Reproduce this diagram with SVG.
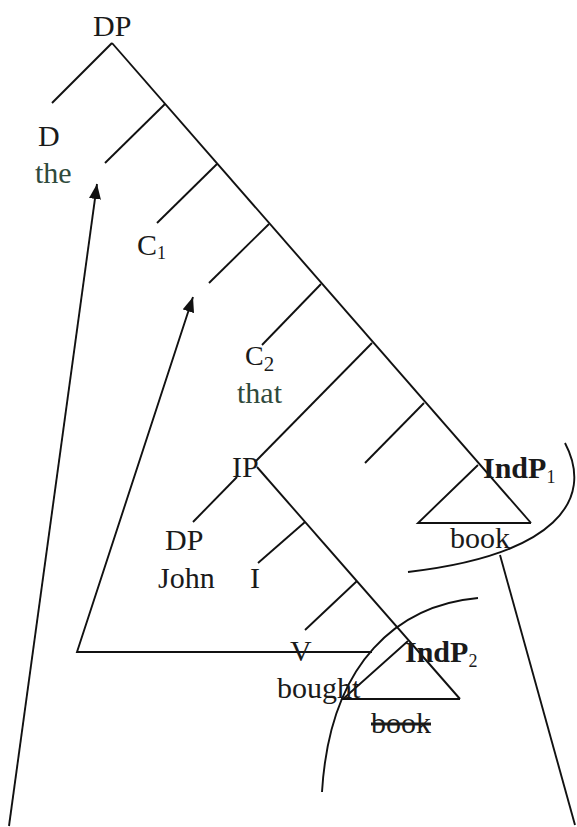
<svg xmlns="http://www.w3.org/2000/svg" width="577" height="827" viewBox="0 0 577 827">
<style>
.ln{stroke:#111;stroke-width:1.9;fill:none;stroke-linecap:butt}
text{font-family:"Liberation Serif","Times New Roman",serif;font-size:30px;fill:#1a1a1a}
.g{fill:#2f4a3c}
.b{font-weight:bold}
.sub{font-size:18px;font-weight:normal}
</style>
<defs>
<marker id="ah" markerWidth="15" markerHeight="12" refX="15" refY="6" orient="auto" markerUnits="userSpaceOnUse">
<path d="M0,0 L15,6 L0,12 Z" fill="#111"/>
</marker>
</defs>
<rect width="577" height="827" fill="#fff"/>
<g id="connectors">
<line class="ln" x1="112" y1="43" x2="52" y2="103"/>
<line class="ln" x1="112" y1="43" x2="531" y2="523"/>
<line class="ln" x1="165" y1="104" x2="105" y2="163"/>
<line class="ln" x1="217" y1="164" x2="157" y2="223"/>
<line class="ln" x1="269" y1="224" x2="209" y2="283"/>
<line class="ln" x1="321" y1="284" x2="262" y2="345"/>
<line class="ln" x1="372" y1="343" x2="255" y2="462"/>
<line class="ln" x1="424" y1="403" x2="365" y2="463"/>
<line class="ln" x1="237" y1="477" x2="193" y2="522"/>
<line class="ln" x1="257" y1="467" x2="460" y2="699"/>
<line class="ln" x1="305" y1="522" x2="258" y2="563"/>
<line class="ln" x1="357" y1="581" x2="305" y2="630"/>
<path class="ln" d="M478,465 L418,523 L531,523"/>
<path class="ln" d="M408,641 L343,699 L460,699"/>
<line class="ln" x1="9" y1="826" x2="97" y2="184" marker-end="url(#ah)"/>
<polyline class="ln" points="372,652 77,652 193,297" marker-end="url(#ah)"/>
<line class="ln" x1="500" y1="555" x2="575" y2="825"/>
<path class="ln" d="M565,443 C595,500 555,555 408,572"/>
<path class="ln" d="M478,598 C400,605 330,660 322,792"/>
</g>
<g id="n-DP"><text x="93" y="36">DP</text></g>
<g id="n-D"><text x="38" y="146">D</text><text class="g" x="35" y="183">the</text></g>
<g id="n-C1"><text x="137" y="255">C<tspan class="sub" dy="4">1</tspan></text></g>
<g id="n-C2"><text x="245" y="365" style="font-size:28px">C<tspan style="font-size:21px" dy="6">2</tspan></text><text class="g" x="237" y="403">that</text></g>
<g id="n-IP"><text x="232" y="477">IP</text></g>
<g id="n-DP2"><text x="165" y="550">DP</text><text x="158" y="588">John</text></g>
<g id="n-I"><text x="250" y="588">I</text></g>
<g id="n-IndP1"><text class="b" x="483" y="478">IndP<tspan class="sub" dy="5">1</tspan></text><text x="450" y="548">book</text></g>
<g id="n-V"><text x="290" y="661">V</text><text x="277" y="698">bought</text></g>
<g id="n-IndP2"><text class="b" x="405" y="662">IndP<tspan class="sub" dy="5">2</tspan></text><text x="371" y="733" style="text-decoration:line-through">book</text></g>
</svg>
